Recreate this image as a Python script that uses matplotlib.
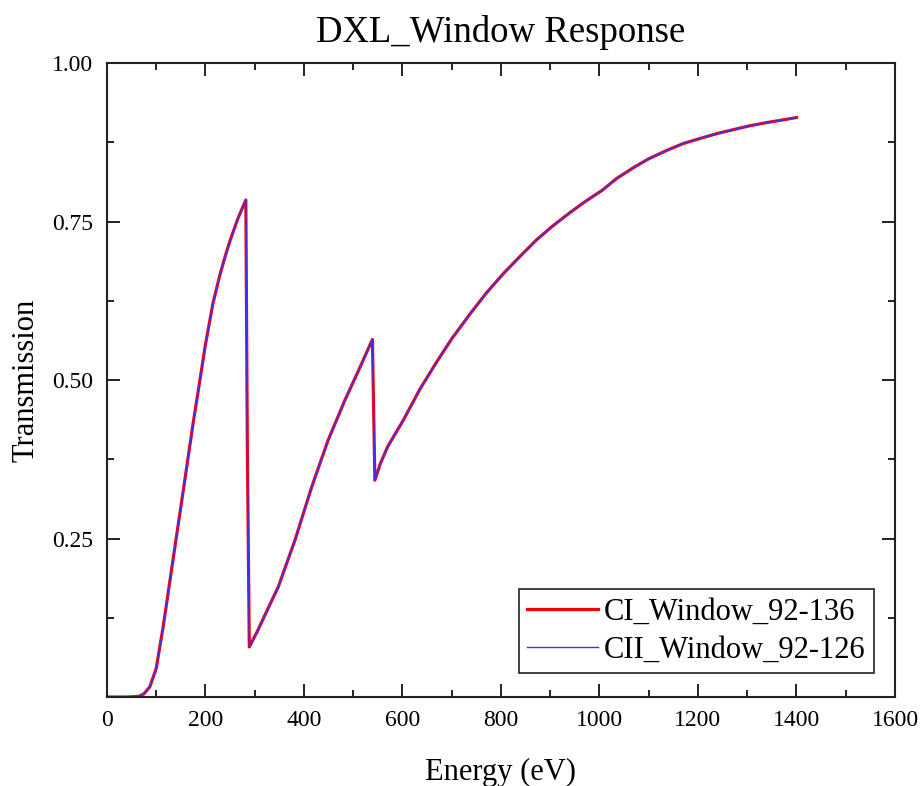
import matplotlib
matplotlib.use("Agg")
import matplotlib.pyplot as plt
from matplotlib.ticker import MultipleLocator, FixedLocator

# values (energy in eV, transmission)
energy = [5, 40, 65, 75, 87, 100, 114, 135, 155, 175, 192, 200, 215, 229, 240,
          250, 266, 282, 285, 289, 305, 320, 348, 382, 416, 449, 483, 512, 539,
          544, 555, 570, 602, 635, 669, 700, 737, 770, 805, 840, 872, 905, 940,
          970, 1005, 1035, 1069, 1100, 1136, 1170, 1204, 1240, 1272, 1305,
          1339, 1370, 1400]
trans_ci = [0.0, 0.0, 0.001, 0.005, 0.016, 0.045, 0.11, 0.221, 0.326, 0.432,
            0.516, 0.556, 0.62, 0.665, 0.695, 0.72, 0.755, 0.784, 0.40, 0.079,
            0.103, 0.128, 0.174, 0.248, 0.332, 0.405, 0.468, 0.517, 0.564,
            0.342, 0.368, 0.395, 0.437, 0.485, 0.528, 0.565, 0.604, 0.637,
            0.668, 0.696, 0.721, 0.743, 0.764, 0.781, 0.799, 0.818, 0.835,
            0.849, 0.862, 0.873, 0.881, 0.889, 0.895, 0.901, 0.906, 0.910,
            0.914]
trans_cii = list(trans_ci)

label_ci = "CI_Window_92-136"
label_cii = "CII_Window_92-126"
yticks = [0.25, 0.50, 0.75, 1.00]

plt.rcParams['font.family'] = ['Liberation Serif', 'DejaVu Serif']

fig = plt.figure(figsize=(9.22, 7.86), dpi=100)
ax = fig.add_axes([0.116, 0.1132, 0.8547, 0.8066])

ax.plot(energy, trans_ci, color='#ff0000', lw=2.3, label=label_ci,
        solid_joinstyle='round')
ax.plot(energy, trans_cii, color='#3333ff', lw=1.0, label=label_cii)

ax.set_xlim(0, 1600)
ax.set_ylim(0, 1.0)
ax.xaxis.set_major_locator(MultipleLocator(200))
ax.xaxis.set_minor_locator(MultipleLocator(100))
ax.yaxis.set_major_locator(FixedLocator(yticks))
ax.yaxis.set_minor_locator(MultipleLocator(0.125))
ax.set_yticklabels(["%.2f" % v for v in yticks])

for s in ax.spines.values():
    s.set_linewidth(1.5)
    s.set_color('#222222')
ax.tick_params(which='both', direction='in', top=True, right=True,
               width=1.4, color='#222222')
ax.tick_params(which='major', length=9.5)
ax.tick_params(which='minor', length=5)
ax.tick_params(axis='x', labelsize=17, pad=9)
ax.tick_params(axis='y', labelsize=17, pad=10)

ax.set_xlabel("Energy (eV)", fontsize=22, labelpad=20)
ax.set_ylabel("Transmission", fontsize=22, labelpad=8)
ax.set_title("DXL_Window Response", fontsize=26.5, pad=15)

leg = ax.legend(loc='lower right', bbox_to_anchor=(0.973, 0.038),
                borderaxespad=0, fontsize=22, fancybox=False,
                edgecolor='#222222', framealpha=1, handlelength=2.3,
                handletextpad=0.2, labelspacing=0.3, borderpad=0.27)
leg.get_frame().set_linewidth(1.2)

fig.savefig("out.png", dpi=100)
